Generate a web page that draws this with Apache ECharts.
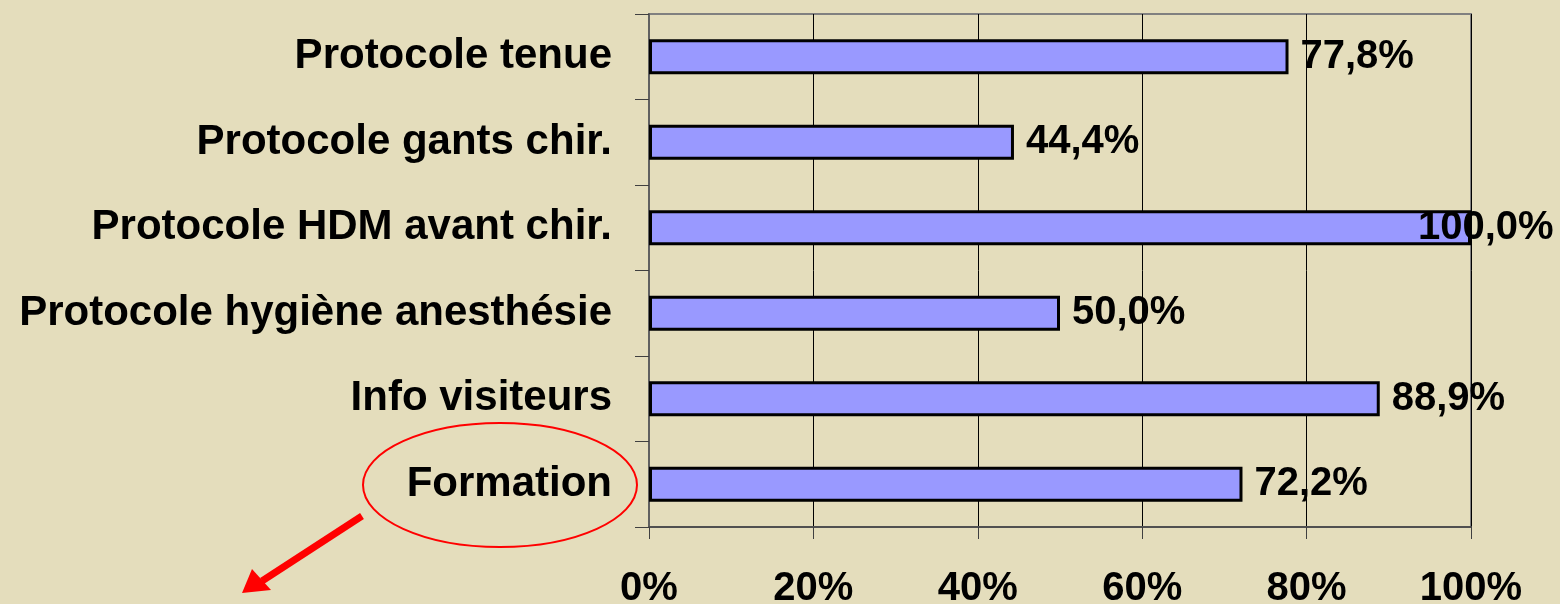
<!DOCTYPE html>
<html>
<head>
<meta charset="utf-8">
<script src="https://cdn.jsdelivr.net/npm/echarts@6/dist/echarts.min.js"></script>
<style>
html,body{margin:0;padding:0;background:#E4DDBC;}
#c{width:1560px;height:604px;}
</style>
</head>
<body>
<div id="c"></div>
<script>
const categories = ['Protocole tenue', 'Protocole gants chir.', 'Protocole HDM avant chir.', 'Protocole hygiène anesthésie', 'Info visiteurs', 'Formation'];
const values = [77.8, 44.4, 100.0, 50.0, 88.9, 72.2];
const xTicks = [0, 20, 40, 60, 80, 100];

const chart = echarts.init(document.getElementById('c'), null, {renderer: 'canvas'});
const font = '"Liberation Sans", Arial, sans-serif';

const data = values.map((v) => {
  const d = {value: v};
  if (v >= 100) d.label = {offset: [-65, 0]};
  return d;
});

chart.setOption({
  backgroundColor: '#E4DDBC',
  animation: false,
  grid: {left: 649, right: 89, top: 14, bottom: 77, containLabel: false, outerBoundsMode: 'none', show: true, borderColor: '#808080', borderWidth: 2, backgroundColor: 'transparent'},
  xAxis: {
    type: 'value', min: 0, max: 100, interval: 20,
    axisLine: {show: true, lineStyle: {color: '#505050', width: 2}},
    axisTick: {show: true, length: 12, lineStyle: {color: '#404040', width: 1}},
    splitLine: {show: true, lineStyle: {color: '#000000', width: 1}},
    axisLabel: {formatter: (v) => xTicks.includes(v) ? v + '%' : '', color: '#000', fontFamily: font, fontWeight: 'bold', fontSize: 40, margin: 42}
  },
  yAxis: {
    type: 'category', data: categories, inverse: true,
    axisLine: {show: true, lineStyle: {color: '#606060', width: 2}},
    axisTick: {show: true, length: 14, lineStyle: {color: '#404040', width: 1}},
    axisLabel: {color: '#000', fontFamily: font, fontWeight: 'bold', fontSize: 42, margin: 37}
  },
  series: [{
    type: 'bar',
    data: data,
    barWidth: 35,
    itemStyle: {color: '#9999FF', borderColor: '#000000', borderWidth: 3},
    label: {
      show: true, position: 'right', distance: 12,
      formatter: (p) => p.value.toFixed(1).replace('.', ',') + '%',
      color: '#000', fontFamily: font, fontWeight: 'bold', fontSize: 40
    }
  }],
  graphic: [
    {type: 'ellipse', shape: {cx: 500, cy: 485, rx: 137, ry: 62}, style: {fill: null, stroke: '#FF0000', lineWidth: 2}},
    {type: 'line', shape: {x1: 362, y1: 516, x2: 262, y2: 581}, style: {stroke: '#FF0000', lineWidth: 7}},
    {type: 'polygon', shape: {points: [[242, 593], [252, 569], [271, 590]]}, style: {fill: '#FF0000'}}
  ]
});
</script>
</body>
</html>
